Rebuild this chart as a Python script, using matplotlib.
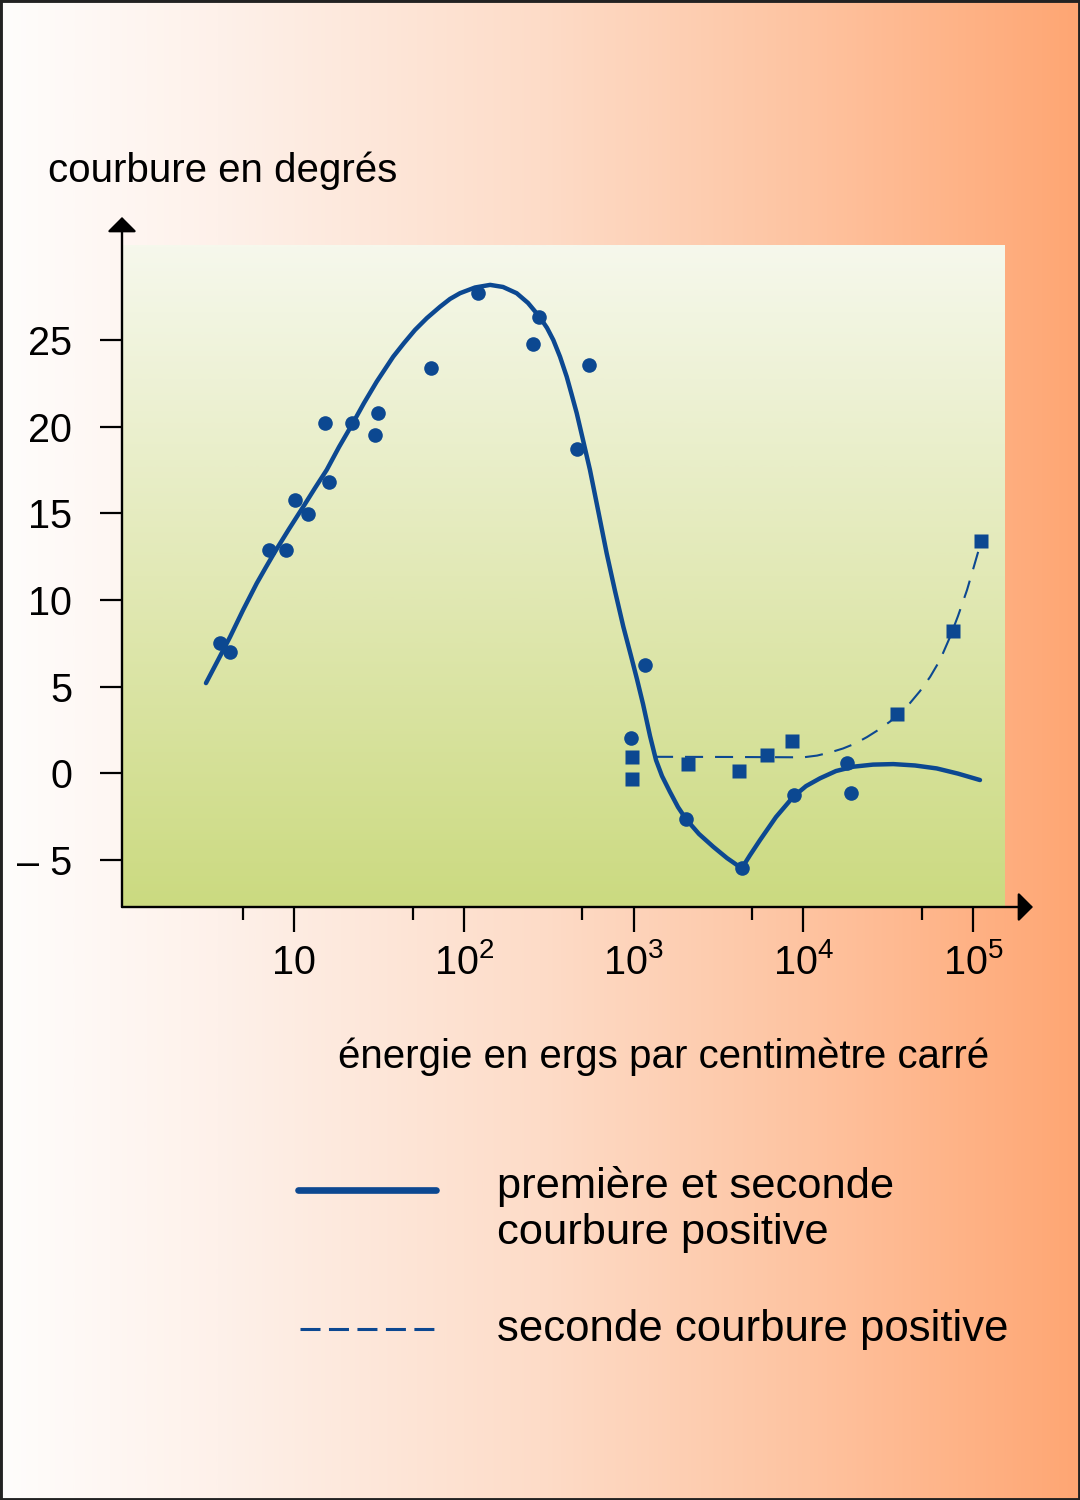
import numpy as np
import matplotlib
matplotlib.use('Agg')
import matplotlib.pyplot as plt
from matplotlib.lines import Line2D
from matplotlib.patches import Rectangle
from matplotlib.colors import LinearSegmentedColormap

plt.rcParams['font.family'] = ['Liberation Sans', 'DejaVu Sans']
plt.rcParams['mathtext.fontset'] = 'custom'
plt.rcParams['mathtext.rm'] = 'Liberation Sans'
plt.rcParams['lines.scale_dashes'] = False

BLUE = '#0c4891'

# measured points (energy in ergs/cm2, curvature in degrees)
circle_energy = [3.66, 4.2, 7.15, 8.97, 10.1, 12.1, 16.0, 15.3, 22.0, 29.8, 31.3, 63.8,
                 122, 255, 279, 462, 547, 966, 1169, 2038, 4335, 8850, 18200, 19000]
circle_curv = [7.54, 7.02, 12.88, 12.88, 15.77, 14.94, 16.82, 20.19, 20.19, 19.5, 20.8, 23.36,
               27.69, 24.75, 26.34, 18.71, 23.55, 2.04, 6.25, -2.63, -5.44, -1.25, 0.58, -1.11]

square_energy = [984, 984, 2084, 4200, 6095, 8630, 35800, 75900, 112000]
square_curv = [0.96, -0.34, 0.52, 0.14, 1.04, 1.85, 3.44, 8.23, 13.42]

# curve "première et seconde courbure positive"
solid_energy = [3.03, 3.57, 4.20, 5.01, 6.03, 6.84, 7.73, 9.34, 11.34, 13.30, 15.58, 18.41,
                21.9, 25.85, 30.7, 38.4, 44.5, 51.6, 60.7, 72.5, 83.0, 95.0, 116.5, 143,
                170.3, 205, 239, 279, 309.4, 337, 369, 404, 431.3, 463, 504, 554, 618, 695,
                778, 871, 967, 1048, 1138, 1251, 1357, 1472, 1641, 1829, 2038, 2431, 2952,
                3555, 4340, 4857, 5562, 6910, 8737, 10380, 12550, 15590, 19720, 25760,
                33900, 45510, 61100, 81580, 109900]
solid_curv = [5.21, 6.54, 7.87, 9.42, 10.96, 11.90, 12.79, 14.09, 15.38, 16.46, 17.50, 18.82,
              20.09, 21.36, 22.59, 24.03, 24.82, 25.57, 26.26, 26.91, 27.36, 27.69, 28.02, 28.17,
              28.05, 27.69, 27.13, 26.34, 25.69, 24.99, 24.03, 22.88, 21.88, 20.77, 19.23, 17.50,
              15.19, 12.69, 10.52, 8.46, 6.77, 5.44, 4.00, 2.16, 0.77, -0.15, -1.07, -1.94,
              -2.63, -3.49, -4.23, -4.88, -5.47, -4.71, -3.84, -2.51, -1.34, -0.73, -0.28,
              0.14, 0.39, 0.51, 0.54, 0.46, 0.29, -0.01, -0.38]

# curve "seconde courbure positive"
dashed_energy = [1339, 3703, 10000, 12050, 14380, 17150, 20180, 23750, 27570, 32430, 37150,
                 42550, 48720, 55810, 63910, 73200, 81580, 92200, 101400, 112000]
dashed_curv = [0.96, 0.95, 0.93, 1.03, 1.21, 1.44, 1.72, 2.10, 2.50, 2.99, 3.54,
               4.06, 4.75, 5.56, 6.54, 7.87, 9.08, 10.58, 11.96, 13.42]

x_major = [10, 100, 1000, 10000, 100000]
x_major_labels = ['10', r'$\mathregular{10^2}$', r'$\mathregular{10^3}$',
                  r'$\mathregular{10^4}$', r'$\mathregular{10^5}$']
x_minor = [5, 50, 500, 5000, 50000]
y_ticks = [-5, 0, 5, 10, 15, 20, 25]
y_labels = ['\u2013 5', '0', '5', '10', '15', '20', '25']

fig = plt.figure(figsize=(10.8, 15), dpi=100)

# page background: white to orange, left to right
bg_cmap = LinearSegmentedColormap.from_list(
    'page', [(0, '#fffdfc'), (0.2, '#fef1ea'), (0.5, '#fddcc8'), (0.75, '#fec3a0'), (1, '#ffa673')])
bg = fig.add_axes([0, 0, 1, 1], zorder=-10)
bg.imshow(np.linspace(0, 1, 512)[None, :], cmap=bg_cmap, aspect='auto', extent=[0, 1, 0, 1])
bg.axis('off')

rect = [122 / 1080, 1 - 907 / 1500, 883 / 1080, 662 / 1500]

# plot area: cream to green, top to bottom
pa_cmap = LinearSegmentedColormap.from_list(
    'plot', [(0, '#cbda80'), (0.5, '#e2e9b6'), (1, '#f6f8ec')])
pa = fig.add_axes(rect, zorder=0)
pa.imshow(np.linspace(0, 1, 512)[:, None], cmap=pa_cmap, aspect='auto',
          extent=[0, 1, 0, 1], origin='lower')
pa.axis('off')

ax = fig.add_axes(rect, zorder=1)
ax.patch.set_visible(False)
ax.set_xscale('log')

ax.plot(solid_energy, solid_curv, color=BLUE, lw=3.2, solid_joinstyle='round',
        solid_capstyle='round')
ax.plot(dashed_energy, dashed_curv, color=BLUE, lw=1.5, dashes=(13, 8.6))
ax.plot(circle_energy, circle_curv, 'o', color=BLUE, ms=10.5, mec='none')
ax.plot(square_energy, square_curv, 's', color=BLUE, ms=10, mec='none')

ax.set_xlim(0.970, 154300)
ax.set_ylim(-7.70, 30.47)

for s in ax.spines.values():
    s.set_visible(False)

ax.set_xticks(x_major)
ax.set_xticks(x_minor, minor=True)
ax.tick_params(axis='x', which='both', labelbottom=False, direction='out', width=1.6, color='black')
ax.tick_params(axis='x', which='major', length=18)
ax.tick_params(axis='x', which='minor', length=9)
ax.set_yticks(y_ticks)
ax.set_yticklabels(y_labels)
ax.tick_params(axis='y', length=16, width=1.6, pad=20, labelsize=28.5)

for v, lab in zip(x_major, x_major_labels):
    ax.text(v, -0.1012, lab, transform=ax.get_xaxis_transform(), ha='center',
            va='baseline', fontsize=28.5)

# axes with arrow heads
arrow = dict(arrowstyle='-|>,head_length=0.45,head_width=0.45', lw=1.7, color='black',
             shrinkA=0, shrinkB=0, mutation_scale=20)
ax.annotate('', xy=(0, 1.0423), xytext=(0, 0), xycoords='axes fraction', arrowprops=arrow)
ax.annotate('', xy=(1.0317, 0), xytext=(0, 0), xycoords='axes fraction', arrowprops=arrow)

fig.text(48 / 1080, 1 - 182 / 1500, 'courbure en degrés', fontsize=29, va='baseline')
fig.text(338 / 1080, 1 - 1068 / 1500, 'énergie en ergs par centimètre carré', fontsize=29,
         va='baseline')

# legend
fig.add_artist(Line2D([298 / 1080, 436 / 1080], [1 - 1190 / 1500] * 2, lw=4.8, color=BLUE,
                      solid_capstyle='round'))
fig.add_artist(Line2D([300 / 1080, 434 / 1080], [1 - 1329 / 1500] * 2, lw=2.2, color=BLUE,
                      dashes=(14.4, 6.1)))
fig.text(497 / 1080, 1 - 1198 / 1500, 'première et seconde', fontsize=31.3, va='baseline')
fig.text(497 / 1080, 1 - 1244 / 1500, 'courbure positive', fontsize=31.3, va='baseline')
fig.text(497 / 1080, 1 - 1341 / 1500, 'seconde courbure positive', fontsize=31.5, va='baseline')

fig.add_artist(Rectangle((0, 0), 1, 1, transform=fig.transFigure, fill=False,
                         edgecolor='#222222', lw=3.5))

fig.savefig('out.png', dpi=100)
